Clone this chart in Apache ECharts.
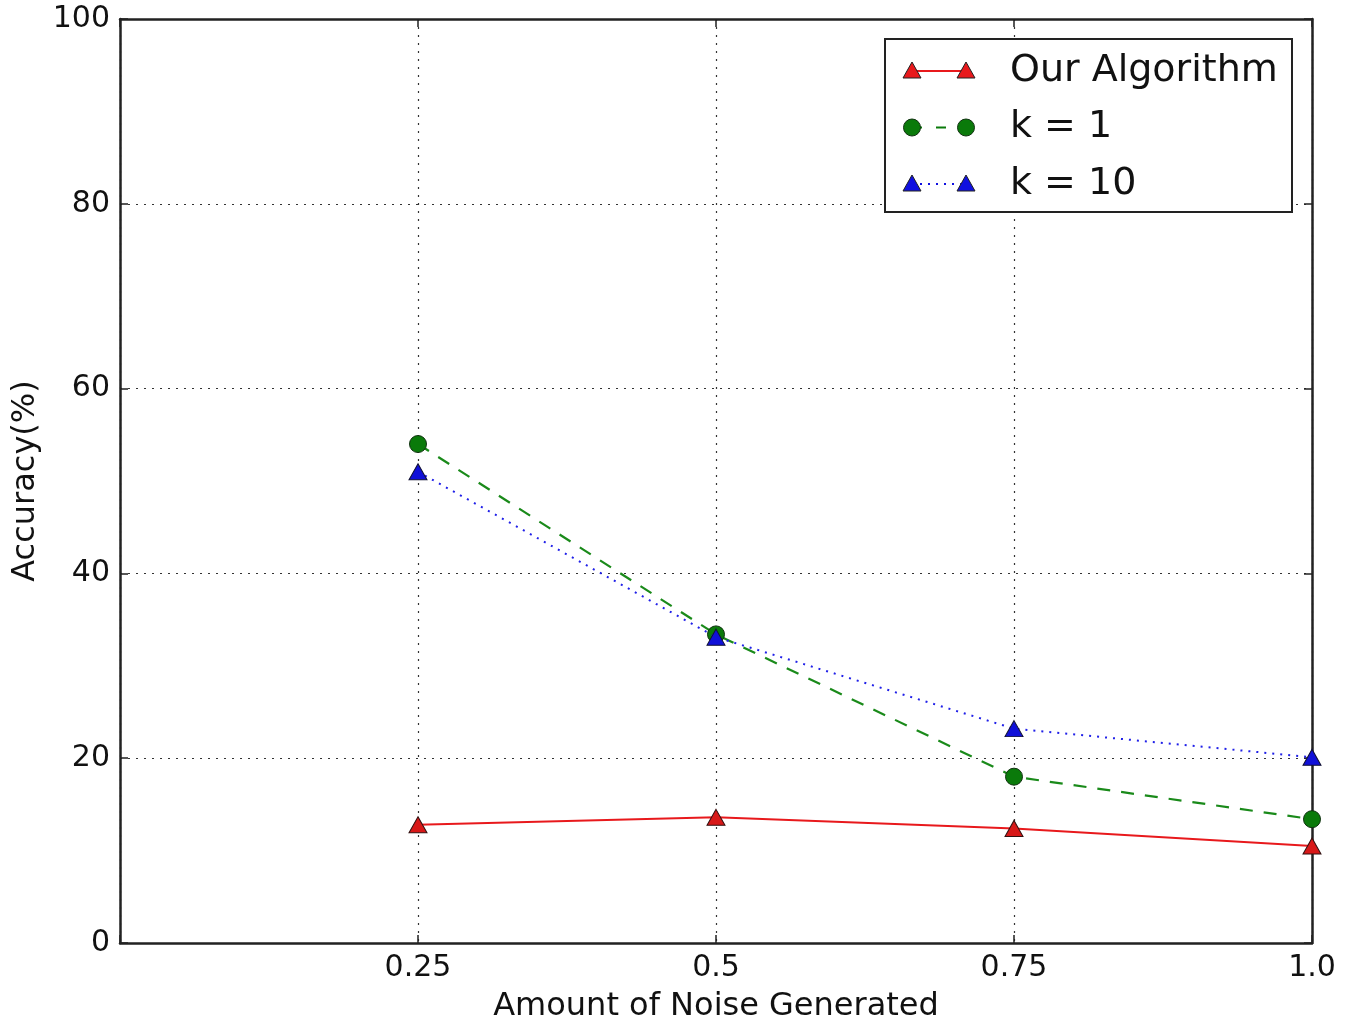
<!DOCTYPE html>
<html>
<head>
<meta charset="utf-8">
<script src="https://cdn.jsdelivr.net/npm/echarts@6/dist/echarts.min.js"></script>
<style>
  html, body { margin: 0; padding: 0; background: #fff; }
  #main { width: 1345px; height: 1023px; }
</style>
</head>
<body>
<div id="main"></div>
<script>
// data
const noise = [0.25, 0.5, 0.75, 1.0]
const ourAlgorithm = [12.8, 13.6, 12.4, 10.5]
const k1 = [54.0, 33.4, 18.0, 13.4]
const k10 = [51.0, 33.1, 23.2, 20.1]
const xTickLabels = ['0.25', '0.5', '0.75', '1.0']
const seriesNames = ['Our Algorithm', 'k = 1', 'k = 10']

const font = 'DejaVu Sans'
const chart = echarts.init(document.getElementById('main'))

const pairs = (ys) => noise.map((x, i) => [x, ys[i]])

// legend drawn like matplotlib: marker - line - marker
const legendRows = [
  { name: seriesNames[0], color: '#e8191c', symbol: 'tri', dash: null },
  { name: seriesNames[1], color: '#0a7a0a', symbol: 'circle', dash: [10, 14] },
  { name: seriesNames[2], color: '#1010e0', symbol: 'tri', dash: [2, 6] }
]
const legendGraphic = [{
  type: 'rect',
  shape: { x: 885, y: 39, width: 407, height: 173 },
  style: { fill: '#fff', stroke: '#222', lineWidth: 2 },
  z: 10
}]
legendRows.forEach((r, i) => {
  const y = 71 + i * 56.5
  legendGraphic.push({
    type: 'line',
    shape: { x1: 912, y1: y, x2: 966, y2: y },
    style: { stroke: r.color, lineWidth: 2, lineDash: r.dash },
    z: 11
  })
  ;[912, 966].forEach((cx) => {
    if (r.symbol === 'circle') {
      legendGraphic.push({
        type: 'circle',
        shape: { cx: cx, cy: y, r: 8.5 },
        style: { fill: r.color, stroke: '#113311', lineWidth: 1 },
        z: 12
      })
    } else {
      legendGraphic.push({
        type: 'polygon',
        shape: { points: [[cx, y - 9], [cx - 9, y + 7], [cx + 9, y + 7]] },
        style: { fill: r.color, stroke: '#222', lineWidth: 1 },
        z: 12
      })
    }
  })
  legendGraphic.push({
    type: 'text',
    style: {
      x: 1010, y: y, text: r.name, fill: '#111',
      font: '38px "DejaVu Sans"', verticalAlign: 'middle'
    },
    z: 12
  })
})

const tickInside = { show: true, inside: true, length: 8, lineStyle: { color: '#222', width: 1.5 } }
const frameLine = { show: true, onZero: false, lineStyle: { color: '#222', width: 2.5 } }
const gridLine = { show: true, lineStyle: { color: '#333', type: [2, 6], width: 1.2 } }

chart.setOption({
  animation: false,
  backgroundColor: '#fff',
  textStyle: { fontFamily: font },
  grid: { left: 120, right: 33, top: 19, bottom: 80, outerBoundsMode: 'none' },
  xAxis: [{
    type: 'value',
    min: 0, max: 1, interval: 0.25,
    name: 'Amount of Noise Generated',
    nameLocation: 'middle',
    nameGap: 48,
    nameTextStyle: { fontSize: 32, color: '#111', fontFamily: font },
    axisLine: frameLine,
    axisTick: tickInside,
    axisLabel: {
      fontSize: 30, color: '#111', margin: 10, fontFamily: font,
      formatter: (v) => {
        const i = noise.indexOf(v)
        return i >= 0 ? xTickLabels[i] : ''
      }
    },
    splitLine: gridLine
  }, {
    type: 'value', position: 'top',
    min: 0, max: 1, interval: 0.25,
    axisLine: frameLine, axisTick: tickInside,
    axisLabel: { show: false }, splitLine: { show: false }
  }],
  yAxis: [{
    type: 'value',
    min: 0, max: 100, interval: 20,
    name: 'Accuracy(%)',
    nameLocation: 'middle',
    nameGap: 74,
    nameTextStyle: { fontSize: 32, color: '#111', fontFamily: font },
    axisLine: frameLine,
    axisTick: tickInside,
    axisLabel: { fontSize: 30, color: '#111', margin: 10, fontFamily: font },
    splitLine: gridLine
  }, {
    type: 'value', position: 'right',
    min: 0, max: 100, interval: 20,
    axisLine: frameLine, axisTick: tickInside,
    axisLabel: { show: false }, splitLine: { show: false }
  }],
  series: [{
    name: seriesNames[0],
    type: 'line',
    data: pairs(ourAlgorithm),
    symbol: 'triangle', symbolSize: [18, 16],
    lineStyle: { color: '#e8191c', width: 2 },
    itemStyle: { color: '#d81818', borderColor: '#331111', borderWidth: 1 },
    z: 3
  }, {
    name: seriesNames[1],
    type: 'line',
    data: pairs(k1),
    symbol: 'circle', symbolSize: 17,
    lineStyle: { color: '#1a8a1a', width: 2.2, type: [13, 11] },
    itemStyle: { color: '#0a7a0a', borderColor: '#113311', borderWidth: 1 },
    z: 4
  }, {
    name: seriesNames[2],
    type: 'line',
    data: pairs(k10),
    symbol: 'triangle', symbolSize: [18, 16],
    lineStyle: { color: '#2020e8', width: 2, type: [2, 6] },
    itemStyle: { color: '#1010d8', borderColor: '#111133', borderWidth: 1 },
    z: 5
  }],
  graphic: legendGraphic
})
</script>
</body>
</html>
